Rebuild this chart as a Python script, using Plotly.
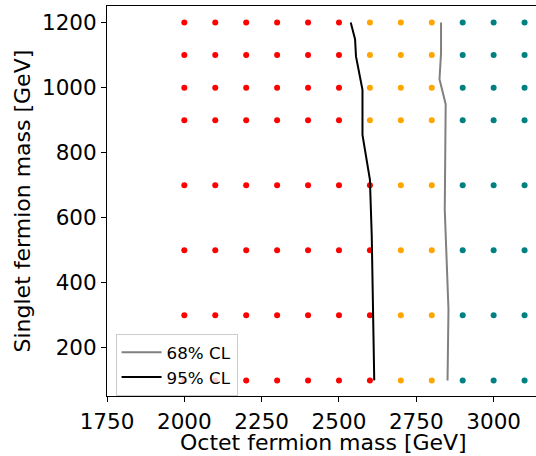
import plotly.graph_objects as go

# Grid of signal points
octet_masses = [2000, 2100, 2200, 2300, 2400, 2500, 2600, 2700, 2800, 2900, 3000, 3100]
singlet_masses = [1200, 1100, 1000, 900, 700, 500, 300, 100]
# status per singlet row (R = excluded 95%, O = excluded 68%, T = allowed)
status_rows = [
    "RRRRRROOOTTT",  # 1200
    "RRRRRROOOTTT",  # 1100
    "RRRRRROOOTTT",  # 1000
    "RRRRRROOOTTT",  # 900
    "RRRRRRROOTTT",  # 700
    "RRRRRRROOTTT",  # 500
    "RRRRRRROOTTT",  # 300
    "RRRRRRROOTTT",  # 100
]
status_colors = {"R": "#ff0000", "O": "#ffa500", "T": "#008080"}

# Contours
cl68_x = [2830, 2830, 2825, 2845, 2842, 2854, 2851]
cl68_y = [1200, 1106, 1026, 949, 625, 318, 100]
cl95_x = [2538, 2552, 2555, 2576, 2576, 2600, 2606, 2611, 2614]
cl95_y = [1200, 1149, 1096, 993, 855, 717, 543, 318, 100]

x_ticks = [1750, 2000, 2250, 2500, 2750, 3000]
y_ticks = [200, 400, 600, 800, 1000, 1200]

fig = go.Figure()
for code, col in status_colors.items():
    xs, ys = [], []
    for ym, row in zip(singlet_masses, status_rows):
        for xm, s in zip(octet_masses, row):
            if s == code:
                xs.append(xm)
                ys.append(ym)
    fig.add_trace(go.Scatter(x=xs, y=ys, mode="markers",
                             marker=dict(color=col, size=6, line=dict(width=0)),
                             showlegend=False, hoverinfo="skip"))

fig.add_trace(go.Scatter(x=cl68_x, y=cl68_y, mode="lines", name="68% CL",
                         line=dict(color="#808080", width=2)))
fig.add_trace(go.Scatter(x=cl95_x, y=cl95_y, mode="lines", name="95% CL",
                         line=dict(color="#000000", width=2)))

font = "DejaVu Sans, sans-serif"
fig.update_layout(
    width=536, height=456,
    margin=dict(l=107, r=0, t=6, b=60, autoexpand=False),
    paper_bgcolor="white", plot_bgcolor="white",
    font=dict(family=font, size=22, color="black"),
    xaxis=dict(range=[1750, 3137], tickvals=x_ticks, showgrid=False, zeroline=False,
               showline=True, linecolor="black", linewidth=1, mirror=True,
               ticks="outside", ticklen=5, tickcolor="black", tickfont=dict(size=21.5),
               ticklabelstandoff=1, automargin=False),
    yaxis=dict(range=[52, 1251], tickvals=y_ticks, showgrid=False, zeroline=False,
               showline=True, linecolor="black", linewidth=1,
               ticks="outside", ticklen=5, tickcolor="black", tickfont=dict(size=21.5),
               automargin=False),
    legend=dict(x=0.02, y=0.159, xanchor="left", yanchor="top",
                bgcolor="rgba(255,255,255,0.8)", bordercolor="#cccccc", borderwidth=1,
                font=dict(size=16.7), itemwidth=40, tracegroupgap=0),
    annotations=[
        dict(text="Octet fermion mass [GeV]", xref="paper", yref="paper",
             x=0.5047, y=-0.118, xanchor="center", yanchor="middle",
             showarrow=False, font=dict(size=22)),
        dict(text="Singlet fermion mass [GeV]", xref="paper", yref="paper",
             x=-0.197, y=0.5, xanchor="center", yanchor="middle", textangle=-90,
             showarrow=False, font=dict(size=22)),
    ],
)

fig.write_html("out.html", config={"displayModeBar": False},
               post_script="document.body.style.margin='0';document.body.style.overflow='hidden';")
